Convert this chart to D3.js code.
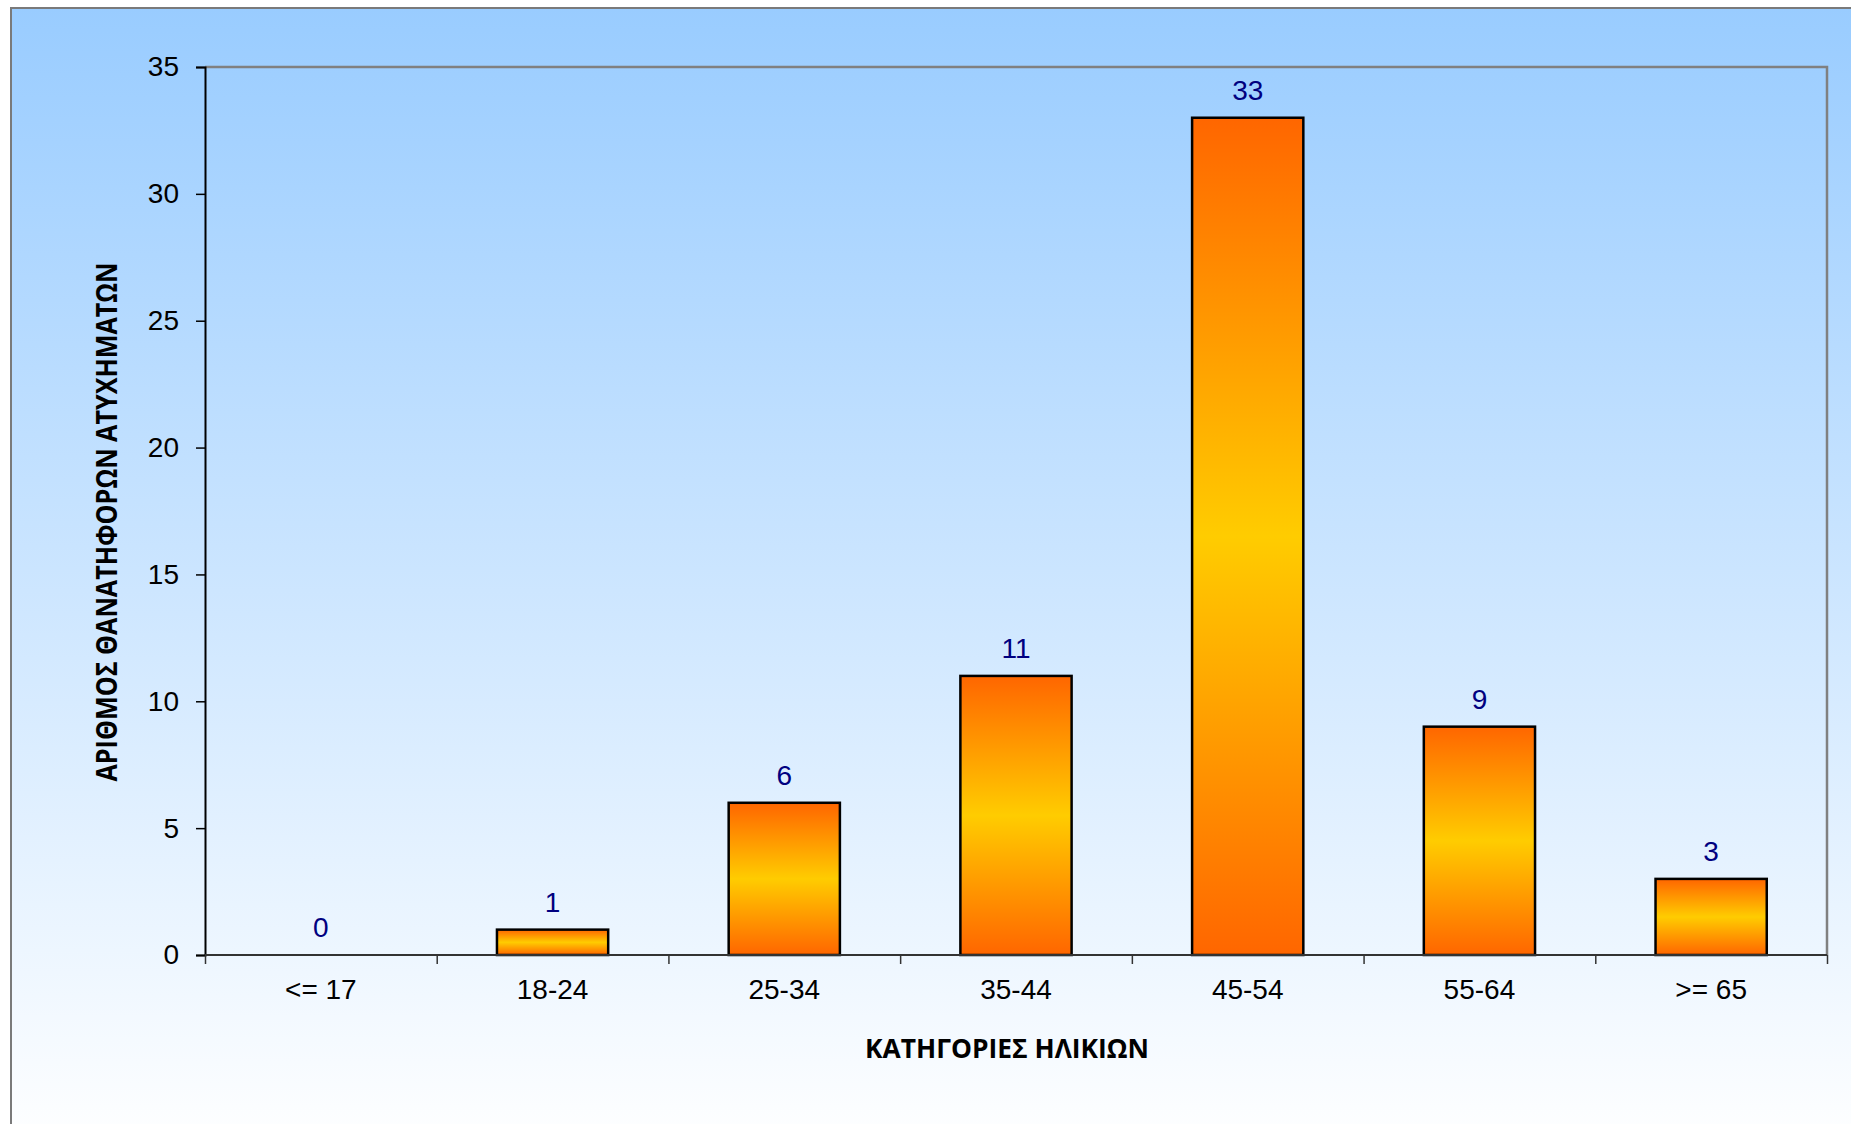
<!DOCTYPE html>
<html>
<head>
<meta charset="utf-8">
<script src="https://cdn.jsdelivr.net/npm/d3@7"></script>
<style>
  body { margin: 0; background: #fff; }
  svg { display: block; }
</style>
</head>
<body>
<div id="chart"></div>
<script>
var categories = ["<= 17", "18-24", "25-34", "35-44", "45-54", "55-64", ">= 65"];
var values = [0, 1, 6, 11, 33, 9, 3];
var yTicks = [0, 5, 10, 15, 20, 25, 30, 35];
var xTitle = "ΚΑΤΗΓΟΡΙΕΣ ΗΛΙΚΙΩΝ";
var yTitle = "ΑΡΙΘΜΟΣ ΘΑΝΑΤΗΦΟΡΩΝ ΑΤΥΧΗΜΑΤΩΝ";

var W = 1851, H = 1124;
var margin = { top: 67, right: 24, bottom: 169, left: 205 },
  width = W - margin.left - margin.right,
  height = H - margin.top - margin.bottom;

var svg = d3.select("#chart").append("svg")
  .attr("width", W)
  .attr("height", H);

var defs = svg.append("defs");

// chart area background: light blue to white
var bg = defs.append("linearGradient")
  .attr("id", "bgGrad")
  .attr("x1", 0).attr("y1", 0).attr("x2", 0).attr("y2", 1);
bg.append("stop").attr("offset", "0%").attr("stop-color", "#99ccff");
bg.append("stop").attr("offset", "100%").attr("stop-color", "#ffffff");

// bar fill: orange - yellow - orange
var barGrad = defs.append("linearGradient")
  .attr("id", "barGrad")
  .attr("x1", 0).attr("y1", 0).attr("x2", 0).attr("y2", 1);
barGrad.append("stop").attr("offset", "0%").attr("stop-color", "#ff6600");
barGrad.append("stop").attr("offset", "50%").attr("stop-color", "#ffcc00");
barGrad.append("stop").attr("offset", "100%").attr("stop-color", "#ff6600");

svg.append("rect")
  .attr("x", 11).attr("y", 8)
  .attr("width", W + 20).attr("height", H + 20)
  .attr("fill", "url(#bgGrad)")
  .attr("stroke", "#7a7a7a")
  .attr("stroke-width", 2);

var g = svg.append("g")
  .attr("transform", "translate(" + margin.left + "," + margin.top + ")");

var x = d3.scaleBand()
  .domain(categories)
  .range([0, width])
  .paddingInner(0.52)
  .paddingOuter(0.26);

var xEdge = d3.scaleLinear()
  .domain([0, categories.length])
  .range([0, width]);

var y = d3.scaleLinear()
  .domain([0, 35])
  .range([height, 0]);

// plot area frame (top and right in grey)
g.append("path")
  .attr("d", "M0,0H" + width + "V" + height)
  .attr("fill", "none")
  .attr("stroke", "#808080")
  .attr("stroke-width", 2.5);

// bars
g.selectAll(".bar")
  .data(values.map(function (v, i) { return { cat: categories[i], v: v }; })
    .filter(function (d) { return d.v > 0; }))
  .enter()
  .append("rect")
  .attr("class", "bar")
  .attr("x", function (d) { return x(d.cat); })
  .attr("y", function (d) { return y(d.v); })
  .attr("width", x.bandwidth())
  .attr("height", function (d) { return height - y(d.v); })
  .attr("fill", "url(#barGrad)")
  .attr("stroke", "#000")
  .attr("stroke-width", 2.5);

// value labels
g.selectAll(".vlabel")
  .data(values)
  .enter()
  .append("text")
  .attr("class", "vlabel")
  .attr("x", function (d, i) { return x(categories[i]) + x.bandwidth() / 2; })
  .attr("y", function (d) { return y(d) - 18; })
  .attr("text-anchor", "middle")
  .style("font-family", "'Liberation Sans', Arial, sans-serif")
  .style("font-size", "28px")
  .style("fill", "#000080")
  .text(function (d) { return d; });

// y axis
var yAxis = d3.axisLeft(y)
  .tickValues(yTicks)
  .tickSize(9)
  .tickPadding(17);

var yg = g.append("g").attr("class", "axis axis--y").call(yAxis);
yg.select(".domain").attr("stroke", "#000").attr("stroke-width", 2);
yg.selectAll(".tick line").attr("stroke", "#000").attr("stroke-width", 1.5);
yg.selectAll("text")
  .style("font-family", "'Liberation Sans', Arial, sans-serif")
  .style("font-size", "28px")
  .style("fill", "#000");

// x axis: ticks at category boundaries
var xTickAxis = d3.axisBottom(xEdge)
  .tickValues(d3.range(categories.length + 1))
  .tickSize(9)
  .tickFormat("");

var xg = g.append("g")
  .attr("transform", "translate(0," + height + ")")
  .call(xTickAxis);
xg.select(".domain").attr("stroke", "#333").attr("stroke-width", 2)
  .attr("d", "M0,0H" + width);
xg.selectAll(".tick line").attr("stroke", "#333").attr("stroke-width", 1.5);

var xLab = d3.axisBottom(x).tickSize(0).tickPadding(24);
var xl = g.append("g")
  .attr("transform", "translate(0," + height + ")")
  .call(xLab);
xl.select(".domain").remove();
xl.selectAll("text")
  .style("font-family", "'Liberation Sans', Arial, sans-serif")
  .style("font-size", "28px")
  .style("fill", "#000");

// axis titles
svg.append("text")
  .attr("x", 1007)
  .attr("y", 1058)
  .attr("text-anchor", "middle")
  .attr("textLength", 284)
  .attr("lengthAdjust", "spacingAndGlyphs")
  .style("font-family", "'Open Sans', 'Noto Sans', sans-serif")
  .style("font-weight", "bold")
  .style("font-size", "27px")
  .style("fill", "#000")
  .text(xTitle);

svg.append("text")
  .attr("transform", "translate(117,522) rotate(-90)")
  .attr("text-anchor", "middle")
  .attr("textLength", 519)
  .attr("lengthAdjust", "spacingAndGlyphs")
  .style("font-family", "'Open Sans', 'Noto Sans', sans-serif")
  .style("font-weight", "bold")
  .style("font-size", "28px")
  .style("fill", "#000")
  .text(yTitle);
</script>
</body>
</html>
